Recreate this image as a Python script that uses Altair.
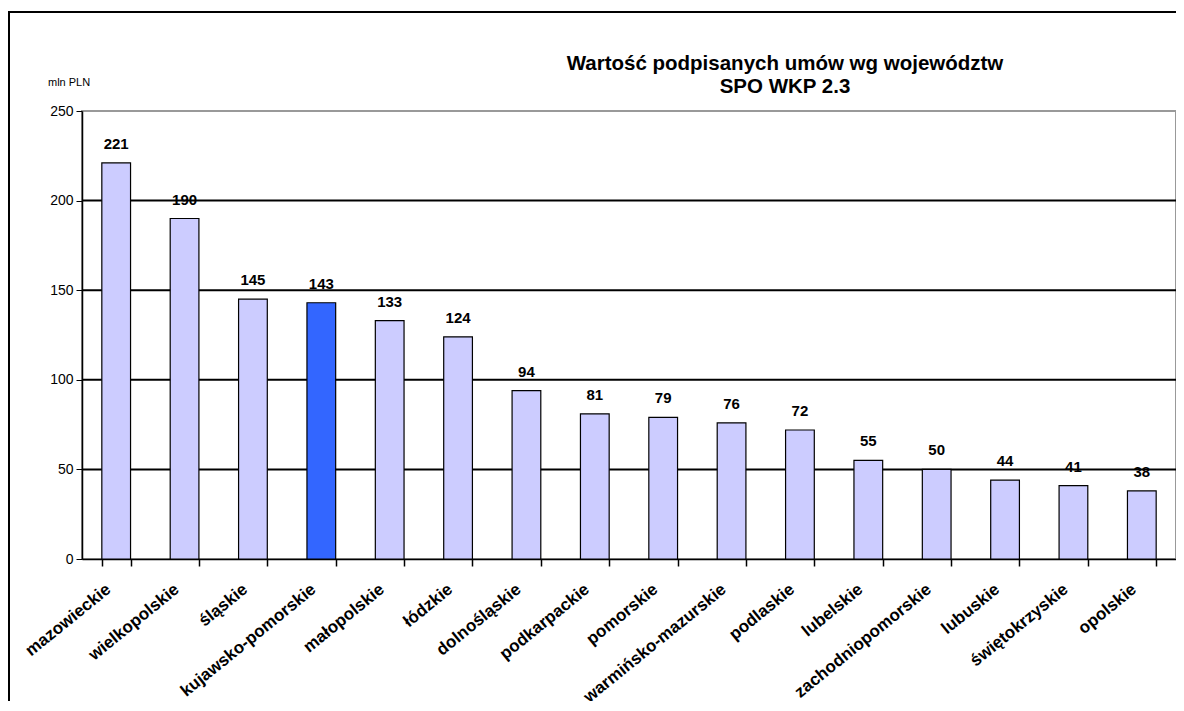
import altair as alt
import pandas as pd

categories = ["mazowieckie", "wielkopolskie", "śląskie", "kujawsko-pomorskie", "małopolskie",
              "łódzkie", "dolnośląskie", "podkarpackie", "pomorskie", "warmińsko-mazurskie",
              "podlaskie", "lubelskie", "zachodniopomorskie", "lubuskie", "świętokrzyskie", "opolskie"]
values = [221, 190, 145, 143, 133, 124, 94, 81, 79, 76, 72, 55, 50, 44, 41, 38]
highlight = "kujawsko-pomorskie"
grid_values = [50, 100, 150, 200]
y_ticks = [0, 50, 100, 150, 200, 250]
title_lines = ["Wartość podpisanych umów wg województw", "SPO WKP 2.3"]
unit_label = "mln PLN"

W, H = 1094, 448
FONT = "Liberation Sans"

df = pd.DataFrame({"cat": categories, "val": values,
                   "hl": [c == highlight for c in categories]})
grid_df = pd.DataFrame({"g": grid_values})
one = pd.DataFrame({"a": [0]})

xs = alt.X("cat:N", sort=categories, scale=alt.Scale(paddingInner=0.58, paddingOuter=0.29),
           axis=alt.Axis(title=None, labelAngle=321, labelAlign="right", labelBaseline="middle",
                         labelFont=FONT, labelFontSize=17, labelFontWeight="bold",
                         labelColor="black", labelPadding=21, labelOffset=-8,
                         ticks=True, tickBand="extent", tickSize=7, tickColor="black",
                         tickWidth=1.5, domainColor="black", domainWidth=1.5,
                         labelOverlap=False))
ys = alt.Y("val:Q", scale=alt.Scale(domain=[0, 250], nice=False),
           axis=alt.Axis(title=None, values=y_ticks, grid=False, labelFont=FONT, labelFontSize=14,
                         labelColor="black", tickColor="black", tickSize=6, labelPadding=3,
                         domainColor="black", domainWidth=1.5))

grid = alt.Chart(grid_df).mark_rule(color="black", strokeWidth=2).encode(y=alt.Y("g:Q"))

bars = alt.Chart(df).mark_bar(stroke="black", strokeWidth=1.2).encode(
    x=xs, y=ys,
    color=alt.condition("datum.hl", alt.value("#3366FF"), alt.value("#CCCCFF")))

labels = alt.Chart(df).mark_text(font=FONT, fontSize=15, fontWeight="bold", dy=-19,
                                 color="black").encode(
    x=alt.X("cat:N", sort=categories), y=alt.Y("val:Q"), text=alt.Text("val:Q"))

title1 = alt.Chart(one).mark_text(font=FONT, fontSize=20.5, fontWeight="bold", color="black").encode(
    x=alt.value(703), y=alt.value(-47), text=alt.value(title_lines[0]))
title2 = alt.Chart(one).mark_text(font=FONT, fontSize=20.5, fontWeight="bold", color="black").encode(
    x=alt.value(703), y=alt.value(-24), text=alt.value(title_lines[1]))
unit = alt.Chart(one).mark_text(font=FONT, fontSize=11, color="black", align="left").encode(
    x=alt.value(-34), y=alt.value(-28), text=alt.value(unit_label))

frame_top = alt.Chart(one).mark_rule(color="black", strokeWidth=2).encode(
    x=alt.value(-74), x2=alt.value(W + 10), y=alt.value(-99))
frame_left = alt.Chart(one).mark_rule(color="black", strokeWidth=2).encode(
    x=alt.value(-73), y=alt.value(-99), y2=alt.value(H + 200))

chart = alt.layer(frame_top, frame_left, grid, bars, labels, title1, title2, unit).properties(
    width=W, height=H,
    autosize=alt.AutoSizeParams(type="none"),
    padding={"left": 74, "top": 103, "right": 0, "bottom": 142},
    background="white",
).configure_view(stroke="#999999", strokeWidth=2)

chart.save("out.html", embed_options={"renderer": "svg", "actions": False})
